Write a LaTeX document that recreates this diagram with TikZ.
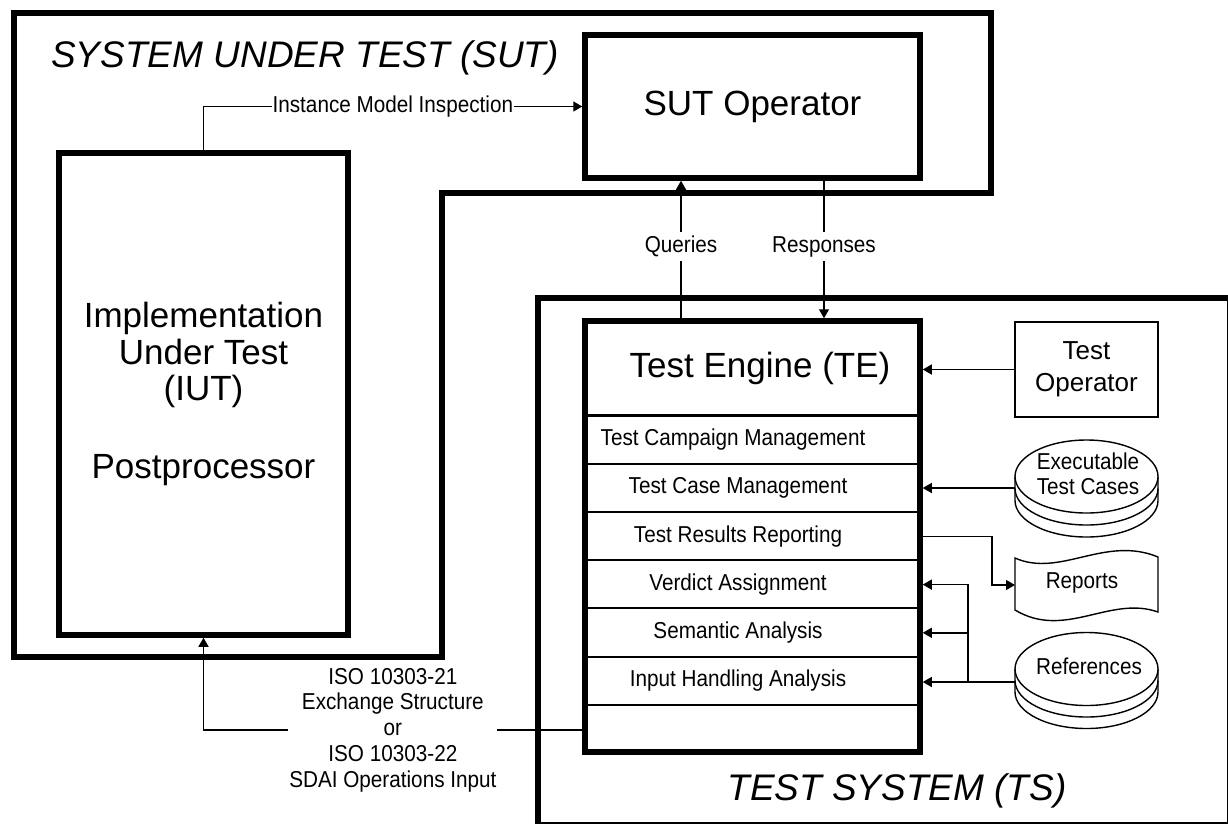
\documentclass[tikz,border=0pt]{standalone}
\usepackage{fontspec}
\setmainfont{Liberation Sans}
\newfontfamily\narrowsf[FakeStretch=0.9]{Liberation Sans}
\usetikzlibrary{arrows.meta, calc}

\begin{document}
\begin{tikzpicture}[x=1pt, y=-1pt,
    thickbox/.style={draw, line width=5.5pt, fill=white, inner sep=0pt},
    thinbox/.style={draw, line width=1.4pt, fill=white, inner sep=0pt},
    conn/.style={line width=1.4pt, -{Triangle[length=9pt,width=10pt]}},
    lbl/.style={fill=white, inner sep=1pt, font=\narrowsf\fontsize{23}{25.75}\selectfont},
    rowtxt/.style={inner sep=0pt, font=\narrowsf\fontsize{23}{25}\selectfont},
    bigtxt/.style={font=\fontsize{35}{36.5}\selectfont},
    titletxt/.style={inner sep=0pt, font=\itshape\fontsize{37}{40}\selectfont}]
        \useasboundingbox (0,0) rectangle (1228,823);
        \clip (0,0) rectangle (1228,823);
        % frames of the two systems
        \draw[line width=5.5pt] (14,13) -- (991,13) -- (991,193) -- (442,193) -- (442,657) -- (14,657) -- cycle;
        \draw[line width=5.5pt] (538,298) rectangle (1229.5,824.5);
        \node[titletxt, anchor=base west] (sutlbl) at (51,67) {SYSTEM UNDER TEST (SUT)};
        \node[titletxt, anchor=base] (tslbl) at (897,800) {TEST SYSTEM (TS)};

        \node[thickbox, minimum width=335pt, minimum height=143pt, bigtxt] (sutop) at (752.5,106.5) {SUT Operator};
        \node[thickbox, minimum width=289pt, minimum height=482pt, bigtxt, align=center] (iut) at (203.5,394)
          {Implementation\\Under Test\\(IUT)\\[41.5pt]Postprocessor};

        % test engine and its parts
        \node[thickbox, minimum width=335pt, minimum height=431pt] (te) at (752.5,536.5) {};
        \node[bigtxt] (tehead) at (760,368) {Test Engine (TE)};
        \draw[line width=3pt] (585,415) -- (920,415);
        \foreach \y in {464,512,560,608,657,705}
          \draw[line width=1.4pt] (585,\y) -- (920,\y);
        \foreach \x/\t [count=\i] in {733/Test Campaign Management, 738/Test Case Management,
            738/Test Results Reporting, 738/Verdict Assignment, 738/Semantic Analysis, 738/Input Handling Analysis}
          \node[rowtxt] (row\i) at (\x,{440+48.2*(\i-1)}) {\t};

        \node[thinbox, minimum width=143pt, minimum height=95pt, align=center,
          font=\fontsize{26}{32}\selectfont] (testop) at (1086.5,369.5) {Test\\Operator};

        % disk stacks and report sheet
        \foreach \cy/\dy in {476.5/12, 669/11.5} {
          \draw[line width=1.4pt] (1015,\cy) -- (1015,{\cy+2*\dy})
            arc[start angle=180, end angle=360, x radius=71.5pt, y radius=36.5pt] -- (1158,\cy);
          \draw[line width=1.4pt] (1015,{\cy+\dy})
            arc[start angle=180, end angle=360, x radius=71.5pt, y radius=36.5pt];
          \draw[line width=1.4pt, fill=white] (1086.5,\cy) ellipse[x radius=71.5pt, y radius=36.5pt];
        }
        \node[rowtxt, align=center] (exectc) at (1088,474) {Executable\\Test Cases};
        \node[rowtxt] (refs) at (1089,666) {References};
        \draw[line width=1.4pt, fill=white] (1015,558) .. controls (1060,578) and (1105,535) .. (1158,557)
          -- (1158,612) .. controls (1110,595) and (1065,640) .. (1015,610) -- cycle;
        \node[rowtxt] (reports) at (1082,583) {Reports};

        \coordinate (execL) at (1015,488);
        \coordinate (repL) at (1015,585);
        \coordinate (refL) at (1015,682);
        \coordinate (repbend) at (992,0);
        \coordinate (refbus) at (968,0);
        \coordinate (qx) at (681,0);
        \coordinate (rx) at (824,0);
        \coordinate (xchg) at (0,730);

        % connectors
        \draw[conn] (iut.north) |- (sutop.west) node[lbl, pos=0.75] {Instance Model Inspection};
        \draw[conn] (te.north -| qx) -- (sutop.south -| qx) node[lbl, inner sep=4pt, pos=0.52] {Queries};
        \draw[conn] (sutop.south -| rx) -- (te.north -| rx) node[lbl, inner sep=4pt, pos=0.48] {Responses};
        \draw[conn] (testop.west) -- (testop.west -| te.east);
        \draw[conn] (execL) -- (execL -| te.east);
        \draw[conn] (row3 -| te.east) -| (repbend |- repL) -- (repL);
        \draw[conn] (refL) -- (refL -| te.east);
        \foreach \r in {row4,row5}
          \draw[conn] (refbus |- refL) |- (\r -| te.east);
        \draw[conn] (te.west |- xchg) -| (iut.south)
          node[lbl, pos=0.25, align=center] {ISO 10303-21\\Exchange Structure\\or\\ISO 10303-22\\SDAI Operations Input};
      \end{tikzpicture}
\end{document}
